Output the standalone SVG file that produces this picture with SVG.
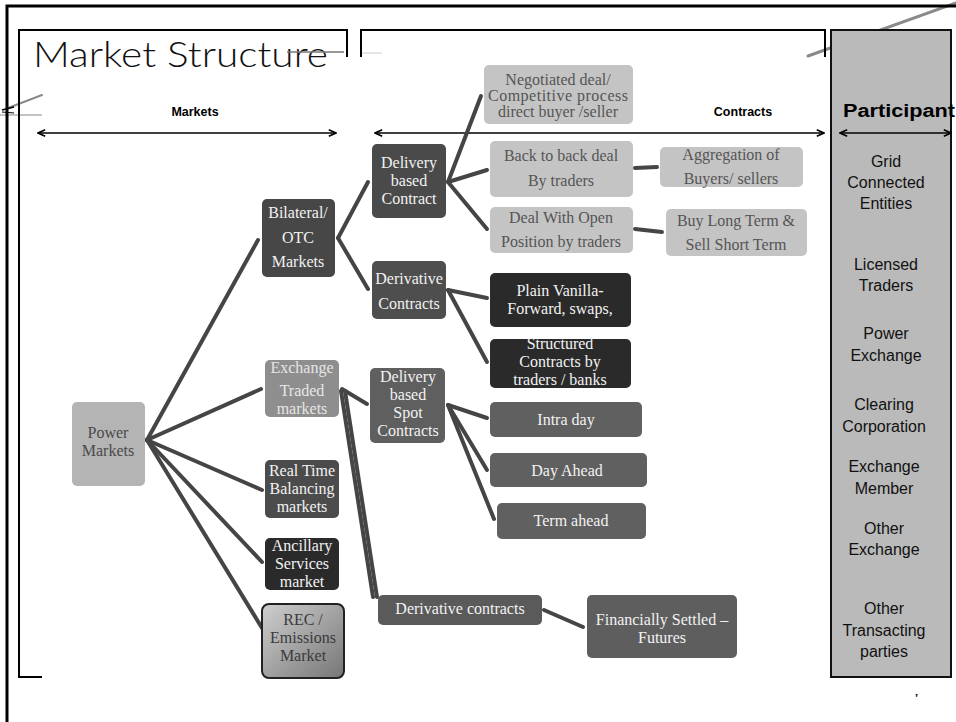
<svg xmlns="http://www.w3.org/2000/svg" width="956" height="722" viewBox="0 0 956 722">
  <defs>
    <marker id="ah" viewBox="0 0 10 10" refX="9" refY="5" markerWidth="9" markerHeight="9" markerUnits="userSpaceOnUse" orient="auto-start-reverse">
      <path d="M1,1.5 L9,5 L1,8.5" fill="none" stroke="#000" stroke-width="1.8"/>
    </marker>
    <linearGradient id="recg" x1="0" y1="0" x2="1" y2="1">
      <stop offset="0" stop-color="#cfcfcf"/>
      <stop offset="1" stop-color="#767676"/>
    </linearGradient>
  </defs>
  <style>
    .frame { fill: none; stroke: #000; }
    .deco { fill: none; stroke: #8a8a8a; stroke-linecap: round; }
    .axis { stroke: #000; stroke-width: 1.5; marker-start: url(#ah); marker-end: url(#ah); }
    .hdr { font-family: "Liberation Sans", Arial, sans-serif; font-weight: bold; fill: #000; text-anchor: middle; }
    .hdr.left { text-anchor: start; }
    .part { font-family: "Liberation Sans", Arial, sans-serif; font-size: 16px; fill: #111; text-anchor: middle; }
    .conn line { stroke: #454545; stroke-width: 4; stroke-linecap: round; }
    .box { rx: 5; ry: 5; }
    .lb { fill: #c4c4c4; }
    .t { font-family: "Liberation Serif", "Times New Roman", serif; text-anchor: middle; font-size: 16px; }
    .tl { fill: #555; }
    .tw { fill: #f2f2f2; }
  </style>

  <!-- decorative strokes behind the frame -->
  <line class="deco" x1="808" y1="56" x2="956" y2="3" stroke-width="3"/>
  <line class="deco" x1="8" y1="108" x2="42" y2="95" stroke-width="2"/>
  <line x1="0" y1="115" x2="42" y2="115" stroke="#b0b0b0" stroke-width="1.5"/>
  <line x1="2" y1="110" x2="14" y2="107" stroke="#000" stroke-width="1.5"/>
  <line x1="2" y1="112" x2="14" y2="113" stroke="#000" stroke-width="1.2"/>

  <!-- outer frame -->
  <path class="frame" d="M7,722 V6 H956" stroke-width="3"/>
  <!-- inner brackets -->
  <path class="frame" d="M42,677 H19 V30 H347 V57" stroke-width="2"/>
  <path class="frame" d="M361,57 V30 H825 V57" stroke-width="2"/>

  <!-- title -->
  <text x="33" y="67" font-family="Lato, 'Open Sans', sans-serif" font-weight="300" font-size="36" fill="#111" textLength="295" lengthAdjust="spacingAndGlyphs">Market Structure</text>
  <line x1="287" y1="52" x2="344" y2="52" stroke="#777" stroke-width="1.5"/>
  <line x1="362" y1="53" x2="382" y2="53" stroke="#ccc" stroke-width="1"/>

  <!-- section headers -->
  <text class="hdr" x="195" y="116" font-size="12.5">Markets</text>
  <text class="hdr" x="743" y="116" font-size="12.5">Contracts</text>
  <line class="axis" x1="38" y1="133" x2="336" y2="133"/>
  <line class="axis" x1="375" y1="133" x2="824" y2="133"/>

  <!-- participants column -->
  <g id="participants">
    <rect x="831" y="30" width="120" height="647" fill="#bababa" stroke="#111" stroke-width="2"/>
    <text class="hdr left" x="843" y="117" font-size="18" textLength="112" lengthAdjust="spacingAndGlyphs">Participant</text>
    <line class="axis" x1="840" y1="133" x2="951" y2="133"/>
    <text class="part" x="886" y="167">Grid</text>
    <text class="part" x="886" y="188">Connected</text>
    <text class="part" x="886" y="209">Entities</text>
    <text class="part" x="886" y="270">Licensed</text>
    <text class="part" x="886" y="291">Traders</text>
    <text class="part" x="886" y="339">Power</text>
    <text class="part" x="886" y="361">Exchange</text>
    <text class="part" x="884" y="410">Clearing</text>
    <text class="part" x="884" y="432">Corporation</text>
    <text class="part" x="884" y="472">Exchange</text>
    <text class="part" x="884" y="494">Member</text>
    <text class="part" x="884" y="534">Other</text>
    <text class="part" x="884" y="555">Exchange</text>
    <text class="part" x="884" y="614">Other</text>
    <text class="part" x="884" y="636">Transacting</text>
    <text class="part" x="884" y="657">parties</text>
  </g>

  <!-- connectors -->
  <g id="connectors" class="conn">
    <line x1="147" y1="440" x2="258" y2="240"/>
    <line x1="147" y1="440" x2="261" y2="389"/>
    <line x1="147" y1="440" x2="262" y2="490"/>
    <line x1="147" y1="440" x2="262" y2="562"/>
    <line x1="147" y1="440" x2="262" y2="628"/>
    <line x1="338" y1="238" x2="368" y2="182"/>
    <line x1="338" y1="238" x2="368" y2="289"/>
    <line x1="448" y1="182" x2="481" y2="96"/>
    <line x1="448" y1="182" x2="487" y2="170"/>
    <line x1="448" y1="182" x2="487" y2="229"/>
    <line x1="635" y1="168" x2="657" y2="167"/>
    <line x1="635" y1="229" x2="662" y2="232"/>
    <line x1="448" y1="290" x2="487" y2="298"/>
    <line x1="448" y1="290" x2="487" y2="362"/>
    <line x1="342" y1="389" x2="367" y2="404"/>
    <line x1="341" y1="391" x2="373" y2="597" stroke-width="2.5"/>
    <line x1="345" y1="391" x2="377" y2="597" stroke-width="2.5"/>
    <line x1="448" y1="405" x2="487" y2="418"/>
    <line x1="448" y1="405" x2="487" y2="470"/>
    <line x1="448" y1="405" x2="494" y2="519"/>
    <line x1="544" y1="610" x2="583" y2="627"/>
  </g>

  <!-- nodes -->
  <g id="power-markets">
    <rect class="box" x="72" y="402" width="73" height="84" fill="#b4b4b4"/>
    <text class="t" x="108" y="438" fill="#4a4a4a">Power</text>
    <text class="t" x="108" y="456" fill="#4a4a4a">Markets</text>
  </g>
  <g id="bilateral-otc">
    <rect class="box" x="262" y="199" width="73" height="78" fill="#474747"/>
    <text class="t tw" x="298" y="218">Bilateral/</text>
    <text class="t tw" x="298" y="243">OTC</text>
    <text class="t tw" x="298" y="267">Markets</text>
  </g>
  <g id="exchange-traded">
    <rect class="box" x="265" y="360" width="74" height="57" fill="#8e8e8e"/>
    <text class="t" x="302" y="373" fill="#e6e6e6">Exchange</text>
    <text class="t" x="302" y="396" fill="#e6e6e6">Traded</text>
    <text class="t" x="302" y="414" fill="#e6e6e6">markets</text>
  </g>
  <g id="real-time-balancing">
    <rect class="box" x="265" y="460" width="74" height="58" fill="#4b4b4b"/>
    <text class="t tw" x="302" y="476">Real Time</text>
    <text class="t tw" x="302" y="494">Balancing</text>
    <text class="t tw" x="302" y="512">markets</text>
  </g>
  <g id="ancillary-services">
    <rect class="box" x="265" y="538" width="74" height="52" fill="#2a2a2a"/>
    <text class="t tw" x="302" y="551">Ancillary</text>
    <text class="t tw" x="302" y="569">Services</text>
    <text class="t tw" x="302" y="587">market</text>
  </g>
  <g id="rec-emissions">
    <rect x="262" y="604" width="82" height="74" rx="7" ry="7" fill="url(#recg)" stroke="#222" stroke-width="2"/>
    <text class="t" x="303" y="625" fill="#3a3a3a">REC /</text>
    <text class="t" x="303" y="643" fill="#3a3a3a">Emissions</text>
    <text class="t" x="303" y="661" fill="#3a3a3a">Market</text>
  </g>
  <g id="delivery-based-contract">
    <rect class="box" x="372" y="144" width="74" height="74" fill="#4a4a4a"/>
    <text class="t tw" x="409" y="168">Delivery</text>
    <text class="t tw" x="409" y="186">based</text>
    <text class="t tw" x="409" y="204">Contract</text>
  </g>
  <g id="derivative-contracts">
    <rect class="box" x="372" y="261" width="74" height="58" fill="#4e4e4e"/>
    <text class="t tw" x="409" y="284">Derivative</text>
    <text class="t tw" x="409" y="309">Contracts</text>
  </g>
  <g id="delivery-spot">
    <rect class="box" x="370" y="368" width="75" height="75" fill="#5f5f5f"/>
    <text class="t tw" x="408" y="382">Delivery</text>
    <text class="t tw" x="408" y="400">based</text>
    <text class="t tw" x="408" y="418">Spot</text>
    <text class="t tw" x="408" y="436">Contracts</text>
  </g>
  <g id="negotiated-deal">
    <rect class="box lb" x="484" y="65" width="149" height="59"/>
    <text class="t tl" x="558" y="85" font-size="13">Negotiated deal/</text>
    <text class="t tl" x="558" y="101" font-size="13" textLength="140" lengthAdjust="spacing">Competitive process</text>
    <text class="t tl" x="558" y="117" font-size="13">direct buyer /seller</text>
  </g>
  <g id="back-to-back">
    <rect class="box lb" x="490" y="141" width="143" height="56"/>
    <text class="t tl" x="561" y="161">Back to back deal</text>
    <text class="t tl" x="561" y="186">By traders</text>
  </g>
  <g id="aggregation">
    <rect class="box lb" x="660" y="147" width="143" height="40"/>
    <text class="t tl" x="731" y="160" font-size="15">Aggregation of</text>
    <text class="t tl" x="731" y="184" font-size="15">Buyers/ sellers</text>
  </g>
  <g id="open-position">
    <rect class="box lb" x="490" y="207" width="143" height="46"/>
    <text class="t tl" x="561" y="223">Deal With Open</text>
    <text class="t tl" x="561" y="247">Position by traders</text>
  </g>
  <g id="buy-long-sell-short">
    <rect class="box lb" x="666" y="209" width="141" height="47"/>
    <text class="t tl" x="736" y="226">Buy Long Term &amp;</text>
    <text class="t tl" x="736" y="250">Sell Short Term</text>
  </g>
  <g id="plain-vanilla">
    <rect class="box" x="490" y="273" width="141" height="54" fill="#2a2a2a"/>
    <text class="t tw" x="560" y="296" font-size="15">Plain Vanilla-</text>
    <text class="t tw" x="560" y="314" font-size="15">Forward, swaps,</text>
  </g>
  <g id="structured-contracts">
    <rect class="box" x="490" y="339" width="141" height="49" fill="#2a2a2a"/>
    <text class="t tw" x="560" y="349" font-size="15">Structured</text>
    <text class="t tw" x="560" y="367" font-size="15">Contracts  by</text>
    <text class="t tw" x="560" y="385" font-size="15">traders / banks</text>
  </g>
  <g id="intra-day">
    <rect class="box" x="490" y="402" width="152" height="35" fill="#606060"/>
    <text class="t tw" x="566" y="425" font-size="17.5">Intra day</text>
  </g>
  <g id="day-ahead">
    <rect class="box" x="490" y="453" width="157" height="34" fill="#606060"/>
    <text class="t tw" x="567" y="476" font-size="17.5">Day Ahead</text>
  </g>
  <g id="term-ahead">
    <rect class="box" x="497" y="503" width="149" height="36" fill="#606060"/>
    <text class="t tw" x="571" y="526" font-size="17.5">Term ahead</text>
  </g>
  <g id="derivative-contracts-exchange">
    <rect class="box" x="378" y="595" width="164" height="30" fill="#5a5a5a"/>
    <text class="t tw" x="460" y="614" font-size="15.5">Derivative contracts</text>
  </g>
  <g id="financially-settled">
    <rect class="box" x="587" y="595" width="150" height="63" fill="#5e5e5e"/>
    <text class="t tw" x="662" y="625" font-size="14.5">Financially Settled –</text>
    <text class="t tw" x="662" y="643" font-size="14.5">Futures</text>
  </g>

  <text x="915" y="702" font-family="'Liberation Sans', Arial, sans-serif" font-size="11" font-weight="bold" fill="#000">’</text>
</svg>
